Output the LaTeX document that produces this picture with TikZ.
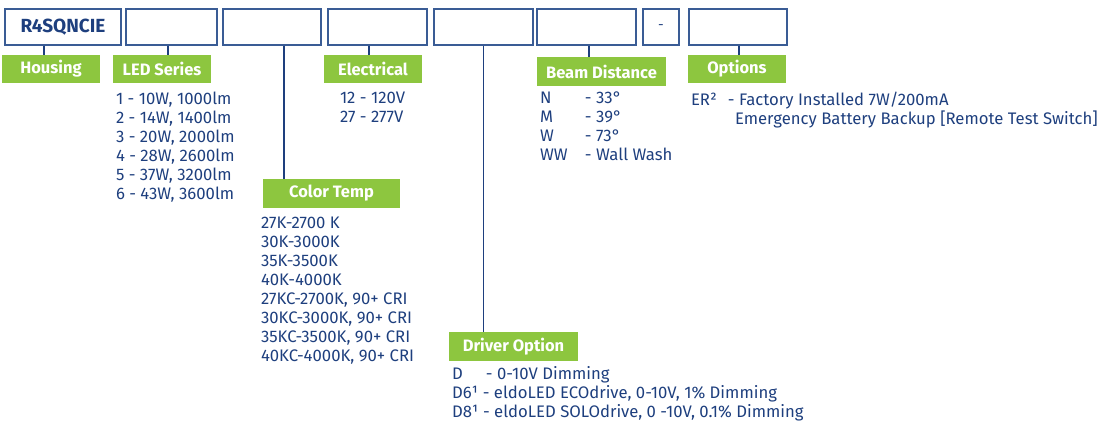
\documentclass[tikz,border=0pt]{standalone}
\usepackage{fontspec}
\setmainfont{Fira Sans}
\usetikzlibrary{positioning}
\definecolor{navy}{HTML}{1E3F7E}
\definecolor{frame}{HTML}{3A5C95}
\definecolor{leaf}{HTML}{8DC63F}

\begin{document}
\begin{tikzpicture}[
      x=1pt, y=-1pt,
      slot/.style={draw=frame, line width=1.3pt, minimum height=36pt, inner sep=0pt, text=navy},
      tag/.style={fill=leaf, text=white, minimum height=28pt, inner sep=0pt, font=\bfseries\fontsize{16.5}{19}\selectfont},
      list/.style={anchor=north west, inner sep=0pt, align=left, text=navy, font=\fontsize{16.7}{19}\selectfont},
      link/.style={draw=navy, line width=1.3pt}
    ]
    \useasboundingbox (0,0) rectangle (1100,422);

    % ordering code slots
    \node[slot, minimum width=116pt, font=\bfseries\fontsize{19}{21}\selectfont] (code) at (63,27) {R4SQNCIE};
    \node[slot, minimum width=91pt] (ledslot) at (171.5,27) {};
    \node[slot, minimum width=98pt] (cctslot) at (272,27) {};
    \node[slot, minimum width=99pt] (voltslot) at (377.5,27) {};
    \node[slot, minimum width=99pt] (drvslot) at (483.5,27) {};
    \node[slot, minimum width=99pt] (beamslot) at (586.5,27) {};
    \node[slot, minimum width=36pt, font=\fontsize{14}{16}\selectfont] (dash) at (661,27) {-};
    \node[slot, minimum width=98pt] (optslot) at (738,27) {};

    % green headings
    \node[tag, minimum width=98pt] (housing) at (51,69) {Housing};
    \node[tag, minimum width=98pt] (ledtag) at (162,69) {LED Series};
    \node[tag, minimum width=98pt] (volttag) at (373,69) {Electrical};
    \node[tag, minimum width=137pt, minimum height=29pt] (ccttag) at (331.5,193.5) {Color Temp};
    \node[tag, minimum width=129pt, minimum height=29pt] (beamtag) at (601.5,71.5) {Beam Distance};
    \node[tag, minimum width=98pt] (opttag) at (737,69) {Options};
    \node[tag, minimum width=129pt, minimum height=29pt] (drvtag) at (513.5,346.5) {Driver Option};

    % choices
    \node[list, below right=8.5pt and 3pt of ledtag.south west] (ledlist) {1 - 10W, 1000lm\\2 - 14W, 1400lm\\3 - 20W, 2000lm\\4 - 28W, 2600lm\\5 - 37W, 3200lm\\6 - 43W, 3600lm};
    \node[list, below right=8.5pt and 16pt of volttag.south west] (voltlist) {12 - 120V\\27 - 277V};
    \node[list, below right=8.5pt and -2pt of ccttag.south west] (cctlist) {27K-2700 K\\30K-3000K\\35K-3500K\\40K-4000K\\27KC-2700K, 90+ CRI\\30KC-3000K, 90+ CRI\\35KC-3500K, 90+ CRI\\40KC-4000K, 90+ CRI};
    \node[list, below right=5.5pt and 3pt of beamtag.south west] (beamlist) {\makebox[45pt][l]{N}- 33°\\\makebox[45pt][l]{M}- 39°\\\makebox[45pt][l]{W}- 73°\\\makebox[45pt][l]{WW}- Wall Wash};
    \node[list, below right=8.5pt and 3pt of opttag.south west] (optlist) {\makebox[37pt][l]{ER²}- Factory Installed 7W/200mA\\\hspace*{44pt}Emergency Battery Backup [Remote Test Switch]};
    \node[list, below right=5.5pt and 3pt of drvtag.south west] (drvlist) {\makebox[34pt][l]{D}- 0-10V Dimming\\D6¹ - eldoLED ECOdrive, 0-10V, 1\% Dimming\\D8¹ - eldoLED SOLOdrive, 0 -10V, 0.1\% Dimming};

    % leaders
    \draw[link] ([xshift=-19pt]code.south) -- ([xshift=-19pt]code.south |- housing.north);
    \draw[link] ([xshift=-3.5pt]ledslot.south) -- ([xshift=-3.5pt]ledslot.south |- ledtag.north);
    \draw[link] ([xshift=12pt]cctslot.south) -- ([xshift=12pt]cctslot.south |- ccttag.north);
    \draw[link] ([xshift=-8.5pt]voltslot.south) -- ([xshift=-8.5pt]voltslot.south |- volttag.north);
    \draw[link] (drvslot.south) -- (drvslot.south |- drvtag.north);
    \draw[link] ([xshift=2.5pt]beamslot.south) -- ([xshift=2.5pt]beamslot.south |- beamtag.north);
    \draw[link] ([xshift=1pt]optslot.south) -- ([xshift=1pt]optslot.south |- opttag.north);

  \end{tikzpicture}
\end{document}
